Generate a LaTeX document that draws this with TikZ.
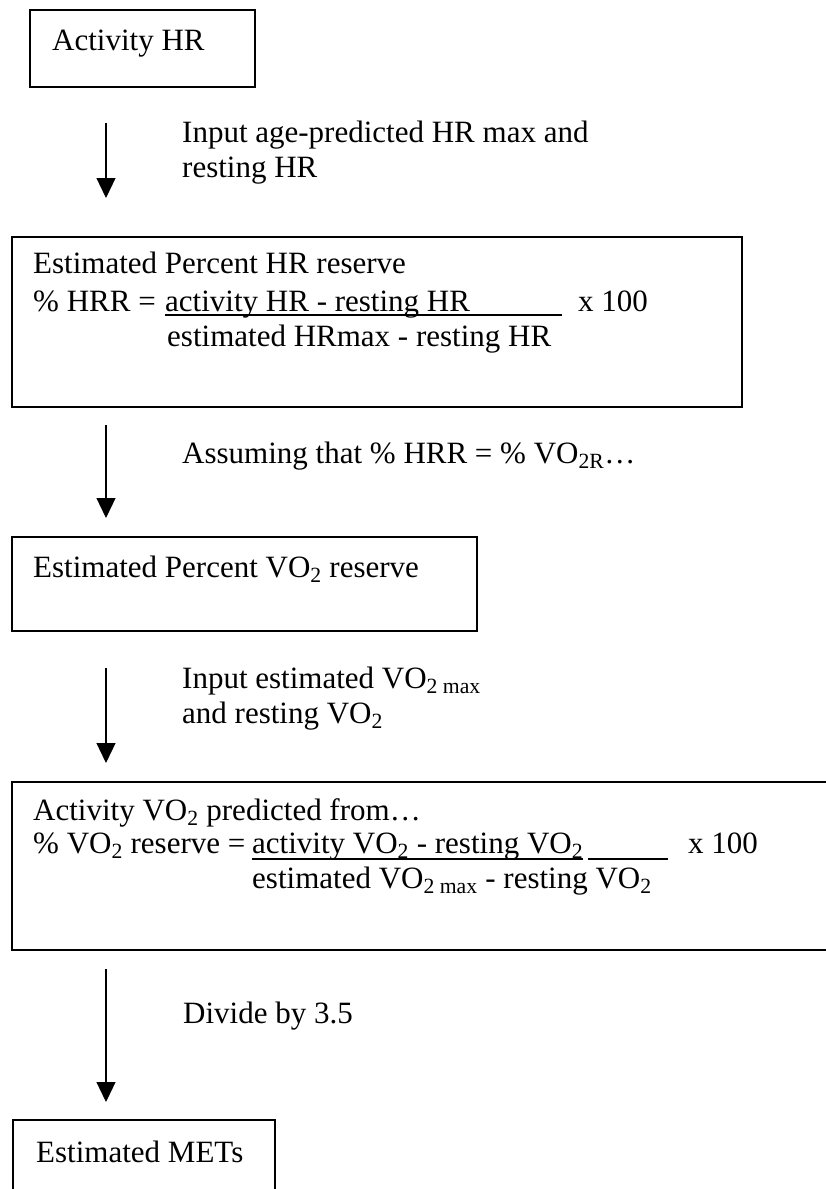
\documentclass[tikz,border=0pt]{standalone}
\usepackage{fontspec}
\setmainfont{Liberation Serif}
\usepackage{tikz}
\usetikzlibrary{arrows.meta}

\begin{document}
\begin{tikzpicture}[x=1pt,y=1pt]
    \tikzset{
        stage/.style={
            draw,
            line width=1.8pt,
            outer sep=0pt,
            inner sep=0pt,
            anchor=north west
        },
        txt/.style={
            inner sep=0pt,
            anchor=base west,
            font=\fontsize{31pt}{36pt}\selectfont
        },
        flow/.style={
            line width=1.2pt,
            -{Triangle[width=19pt,length=20pt]}
        },
        uline/.style={line width=1.4pt}
    }

    \useasboundingbox (0,0) rectangle (825,-1189);
    \coordinate (axis) at (106,0);

    % Activity HR
    \node[stage,minimum width=225pt,minimum height=77pt] (hr) at (30,-10) {};
    \node[txt] (hr_txt) at (52,-50) {Activity HR};

    \node[txt] (step1a) at (182,-142) {Input age-predicted HR max and};
    \node[txt] (step1b) at (182,-177) {resting HR};

    % Percent HR reserve
    \node[stage,minimum width=730pt,minimum height=170pt] (hrr) at (12,-237) {};
    \node[txt] (hrr_title) at (33,-273) {Estimated Percent HR reserve};
    \node[txt] (hrr_lhs) at (33,-311) {\% HRR =};
    \node[txt] (hrr_num) at (165,-311) {activity HR - resting HR};
    \node[txt] (hrr_den) at (167,-346) {estimated HRmax - resting HR};
    \node[txt] (hrr_x) at (578,-311) {x 100};
    \draw[uline] ([yshift=-4pt]hrr_num.base west) -- ++(397,0);

    \node[txt] (step2) at (182,-463) {Assuming that \% HRR = \% VO\textsubscript{2R}\ldots};

    % Percent VO2 reserve
    \node[stage,minimum width=465pt,minimum height=94pt] (vo2r) at (12,-537) {};
    \node[txt] (vo2r_txt) at (33,-577) {Estimated Percent VO\textsubscript{2} reserve};

    \node[txt] (step3a) at (182,-688) {Input estimated VO\textsubscript{2 max}};
    \node[txt] (step3b) at (182,-723) {and resting VO\textsubscript{2}};

    % Activity VO2
    \node[stage,minimum width=830pt,minimum height=168pt] (vo2) at (12,-782) {};
    \node[txt] (vo2_title) at (33,-820) {Activity VO\textsubscript{2} predicted from\ldots};
    \node[txt] (vo2_lhs) at (33,-853) {\% VO\textsubscript{2} reserve =};
    \node[txt] (vo2_num) at (252,-853) {activity VO\textsubscript{2} - resting VO\textsubscript{2}};
    \node[txt] (vo2_den) at (252,-888) {estimated VO\textsubscript{2 max} - resting VO\textsubscript{2}};
    \node[txt] (vo2_x) at (688,-853) {x 100};
    \draw[uline] ([yshift=-6pt]vo2_num.base west) -- ([yshift=-6pt]vo2_num.base east);
    \draw[uline] ([xshift=5pt,yshift=-6pt]vo2_num.base east) -- ++(80,0);

    \node[txt] (step4) at (183,-1023) {Divide by 3.5};

    % METs
    \node[stage,minimum width=262pt,minimum height=90pt] (mets) at (13,-1120) {};
    \node[txt] (mets_txt) at (36,-1162) {Estimated METs};

    % Arrows
    \draw[flow,shorten <=36pt,shorten >=39pt] (hr.south -| axis) -- (hrr.north -| axis);
    \draw[flow,shorten <=18pt,shorten >=19pt] (hrr.south -| axis) -- (vo2r.north -| axis);
    \draw[flow,shorten <=37pt,shorten >=19pt] (vo2r.south -| axis) -- (vo2.north -| axis);
    \draw[flow,shorten <=19pt,shorten >=18pt] (vo2.south -| axis) -- (mets.north -| axis);
\end{tikzpicture}
\end{document}
